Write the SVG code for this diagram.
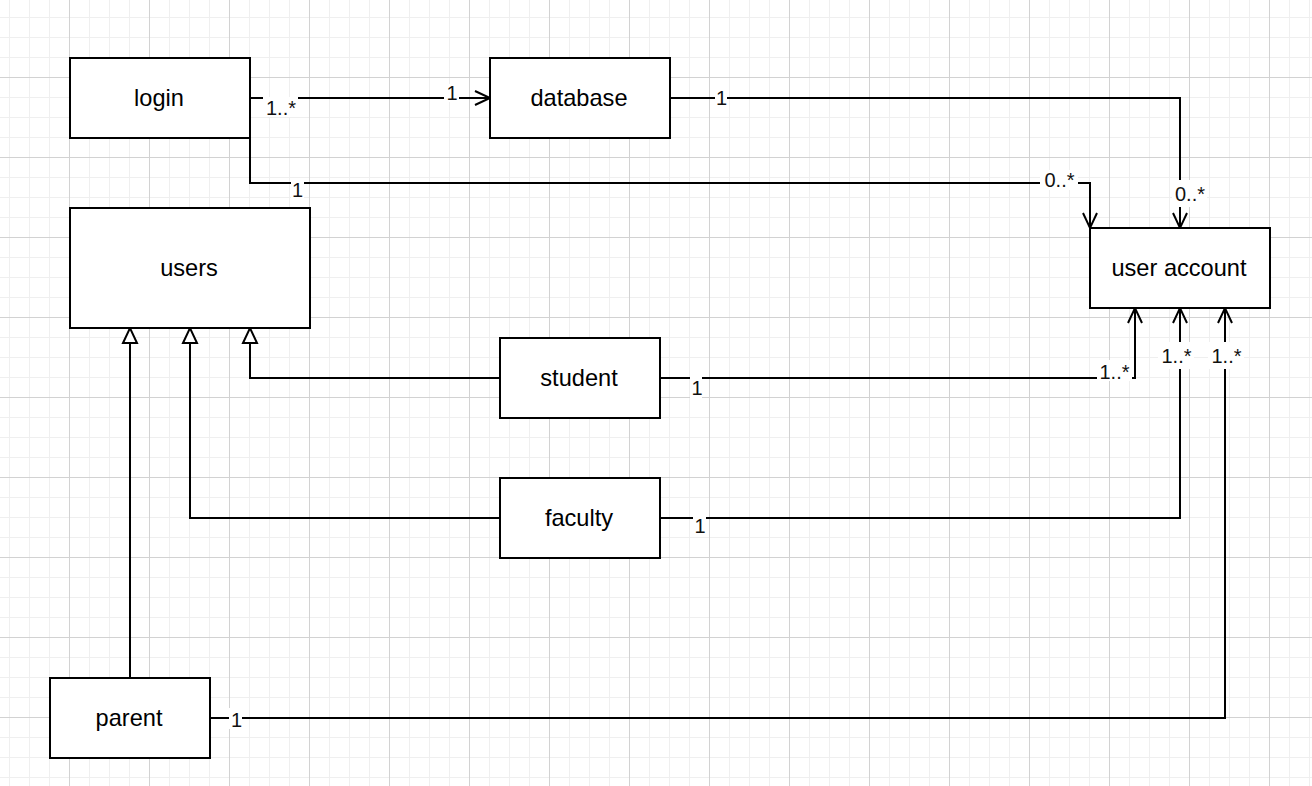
<svg xmlns="http://www.w3.org/2000/svg" width="1312" height="786" viewBox="0 0 1312 786">
  <style>
    .node rect { fill: #ffffff; stroke: #000000; stroke-width: 2; }
    .node text { font-family: "Liberation Sans", Arial, sans-serif; font-size: 23.6px; fill: #000000; text-anchor: middle; }
    .edge { fill: none; stroke: #000000; stroke-width: 2; }
    .lbl-bg { fill: #ffffff; }
    .lbl { font-family: "Liberation Sans", Arial, sans-serif; font-size: 20px; fill: #111111; text-anchor: middle; }
  </style>
  <defs>
    <pattern id="minor" x="9" y="17" width="20" height="20" patternUnits="userSpaceOnUse">
      <path d="M0 0.5 H20 M0.5 0 V20" stroke="#efefef" stroke-width="1" fill="none"/>
    </pattern>
    <pattern id="major" x="69" y="77" width="80" height="80" patternUnits="userSpaceOnUse">
      <path d="M0 0.5 H80 M0.5 0 V80" stroke="#d2d2d2" stroke-width="1" fill="none"/>
    </pattern>
    <marker id="open" markerUnits="userSpaceOnUse" markerWidth="20" markerHeight="20" refX="15" refY="7" orient="auto" overflow="visible">
      <path d="M0,0 L15,7 L0,14" fill="none" stroke="#000000" stroke-width="2"/>
    </marker>
    <marker id="tri" markerUnits="userSpaceOnUse" markerWidth="20" markerHeight="20" refX="15" refY="7" orient="auto" overflow="visible">
      <path d="M0,0 L15,7 L0,14 Z" fill="#ffffff" stroke="#000000" stroke-width="2"/>
    </marker>
  </defs>

  <rect x="0" y="0" width="1312" height="786" fill="#ffffff"/>
  <rect x="0" y="0" width="1312" height="786" fill="url(#minor)"/>
  <rect x="0" y="0" width="1312" height="786" fill="url(#major)"/>

  <g id="connectors">
    <path class="edge" d="M250 98 H490" marker-end="url(#open)"/>
    <path class="edge" d="M250 138 V183 H1090 V228" marker-end="url(#open)"/>
    <path class="edge" d="M670 98 H1180 V228" marker-end="url(#open)"/>
    <path class="edge" d="M500 378 H250 V328" marker-end="url(#tri)"/>
    <path class="edge" d="M500 518 H190 V328" marker-end="url(#tri)"/>
    <path class="edge" d="M130 678 V328" marker-end="url(#tri)"/>
    <path class="edge" d="M660 378 H1135 V308" marker-end="url(#open)"/>
    <path class="edge" d="M660 518 H1180 V308" marker-end="url(#open)"/>
    <path class="edge" d="M210 718 H1225 V308" marker-end="url(#open)"/>

    <g id="labels">
      <rect class="lbl-bg" x="263" y="97" width="35" height="20"/>
      <text class="lbl" x="281" y="115">1..*</text>
      <rect class="lbl-bg" x="444" y="84" width="15" height="18"/>
      <text class="lbl" x="452" y="100">1</text>

      <rect class="lbl-bg" x="291" y="180" width="13" height="19"/>
      <text class="lbl" x="297.5" y="196.5">1</text>
      <rect class="lbl-bg" x="1040" y="170" width="38" height="20"/>
      <text class="lbl" x="1059.5" y="187">0..*</text>

      <rect class="lbl-bg" x="715" y="88" width="12" height="19"/>
      <text class="lbl" x="721.5" y="105">1</text>
      <rect class="lbl-bg" x="1172" y="180" width="35" height="27"/>
      <text class="lbl" x="1190" y="200.5">0..*</text>

      <rect class="lbl-bg" x="690" y="375" width="12" height="23"/>
      <text class="lbl" x="697" y="395">1</text>
      <rect class="lbl-bg" x="1097" y="360" width="35" height="21"/>
      <text class="lbl" x="1114.5" y="379">1..*</text>

      <rect class="lbl-bg" x="693" y="516" width="13" height="20"/>
      <text class="lbl" x="700" y="533">1</text>
      <rect class="lbl-bg" x="1158" y="342" width="36" height="27"/>
      <text class="lbl" x="1176.5" y="363">1..*</text>

      <rect class="lbl-bg" x="229" y="708" width="13" height="21"/>
      <text class="lbl" x="236.5" y="726.5">1</text>
      <rect class="lbl-bg" x="1208" y="342" width="36" height="27"/>
      <text class="lbl" x="1226.5" y="363">1..*</text>
    </g>
  </g>

  <g id="node-login" class="node">
    <rect x="70" y="58" width="180" height="80"/>
    <text x="159" y="106">login</text>
  </g>
  <g id="node-database" class="node">
    <rect x="490" y="58" width="180" height="80"/>
    <text x="579" y="106">database</text>
  </g>
  <g id="node-users" class="node">
    <rect x="70" y="208" width="240" height="120"/>
    <text x="189" y="276">users</text>
  </g>
  <g id="node-useraccount" class="node">
    <rect x="1090" y="228" width="180" height="80"/>
    <text x="1179" y="276">user account</text>
  </g>
  <g id="node-student" class="node">
    <rect x="500" y="338" width="160" height="80"/>
    <text x="579" y="386">student</text>
  </g>
  <g id="node-faculty" class="node">
    <rect x="500" y="478" width="160" height="80"/>
    <text x="579" y="526">faculty</text>
  </g>
  <g id="node-parent" class="node">
    <rect x="50" y="678" width="160" height="80"/>
    <text x="129" y="726">parent</text>
  </g>
</svg>
